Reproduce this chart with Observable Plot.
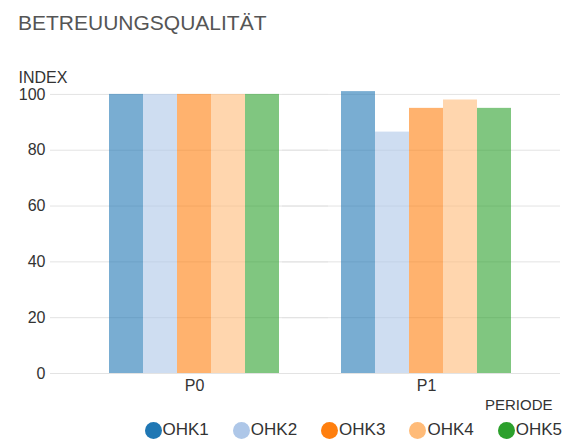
<!DOCTYPE html>
<html>
<head>
<meta charset="utf-8">
<script src="https://cdn.jsdelivr.net/npm/d3@7"></script>
<script src="https://cdn.jsdelivr.net/npm/@observablehq/plot@0.6"></script>
<style>
  body { margin: 0; background: #fff; font-family: "Liberation Sans", Arial, sans-serif; }
  #title { height: 68px; box-sizing: border-box; padding: 11px 0 0 18px; font-size: 21px; color: #555; line-height: 24px; }
  #legend { height: 26px; box-sizing: border-box; padding-top: 6px; display: flex; justify-content: flex-end; align-items: center; padding-right: 2px; font-size: 17px; color: #333; }
  .item { display: flex; align-items: center; margin-left: 24px; }
  .dot { width: 17px; height: 17px; border-radius: 50%; margin-right: 1px; }
</style>
</head>
<body>
<div id="title">BETREUUNGSQUALITÄT</div>
<div id="chart"></div>
<div id="legend"></div>
<script>
const periods = ["P0", "P1"];
const series = ["OHK1", "OHK2", "OHK3", "OHK4", "OHK5"];
const valuesP0 = [100, 100, 100, 100, 100];
const valuesP1 = [101, 86.5, 95, 98, 95];
const colors = ["#1f77b4", "#aec7e8", "#ff7f0e", "#ffbb78", "#2ca02c"];
const yTicks = [0, 20, 40, 60, 80, 100];
const xLabel = ["PERIODE"];

const data = [];
[valuesP0, valuesP1].forEach((vals, pi) => {
  vals.forEach((v, si) => data.push({period: periods[pi], series: series[si], value: v}));
});

const chart = Plot.plot({
  width: 564,
  height: 346,
  marginLeft: 50,
  marginRight: 12,
  marginTop: 22,
  marginBottom: 41,
  style: {fontFamily: "'Liberation Sans', Arial, sans-serif", fontSize: "16px", color: "#333"},
  fx: {domain: periods, range: [78, 542], padding: 0, axis: "bottom", tickSize: 0, tickPadding: 6, label: null},
  x: {domain: series, axis: null, paddingInner: 0, paddingOuter: 0.833},
  y: {domain: [0, 101.4], ticks: yTicks, tickSize: 0, tickPadding: 33, label: "INDEX",
      labelAnchor: "top", labelOffset: 60, labelArrow: "none"},
  color: {domain: series, range: colors},
  marks: [
    Plot.ruleY(yTicks, {stroke: "#e3e3e3", strokeWidth: 1, insetLeft: -28, insetRight: -18}),
    Plot.barY(data, {fx: "period", x: "series", y: "value", fill: "series", fillOpacity: 0.6, inset: 0}),
    Plot.text(xLabel, {text: d => d, facet: "super", frameAnchor: "bottom-right", textAnchor: "end",
      dx: 10, dy: 36, fontSize: 15, fill: "#333"})
  ]
});
document.getElementById("chart").appendChild(chart);

const legend = document.getElementById("legend");
series.forEach((s, i) => {
  const it = document.createElement("div");
  it.className = "item";
  const d = document.createElement("span");
  d.className = "dot";
  d.style.background = colors[i];
  const t = document.createElement("span");
  t.textContent = s;
  it.appendChild(d); it.appendChild(t);
  legend.appendChild(it);
});
</script>
</body>
</html>
